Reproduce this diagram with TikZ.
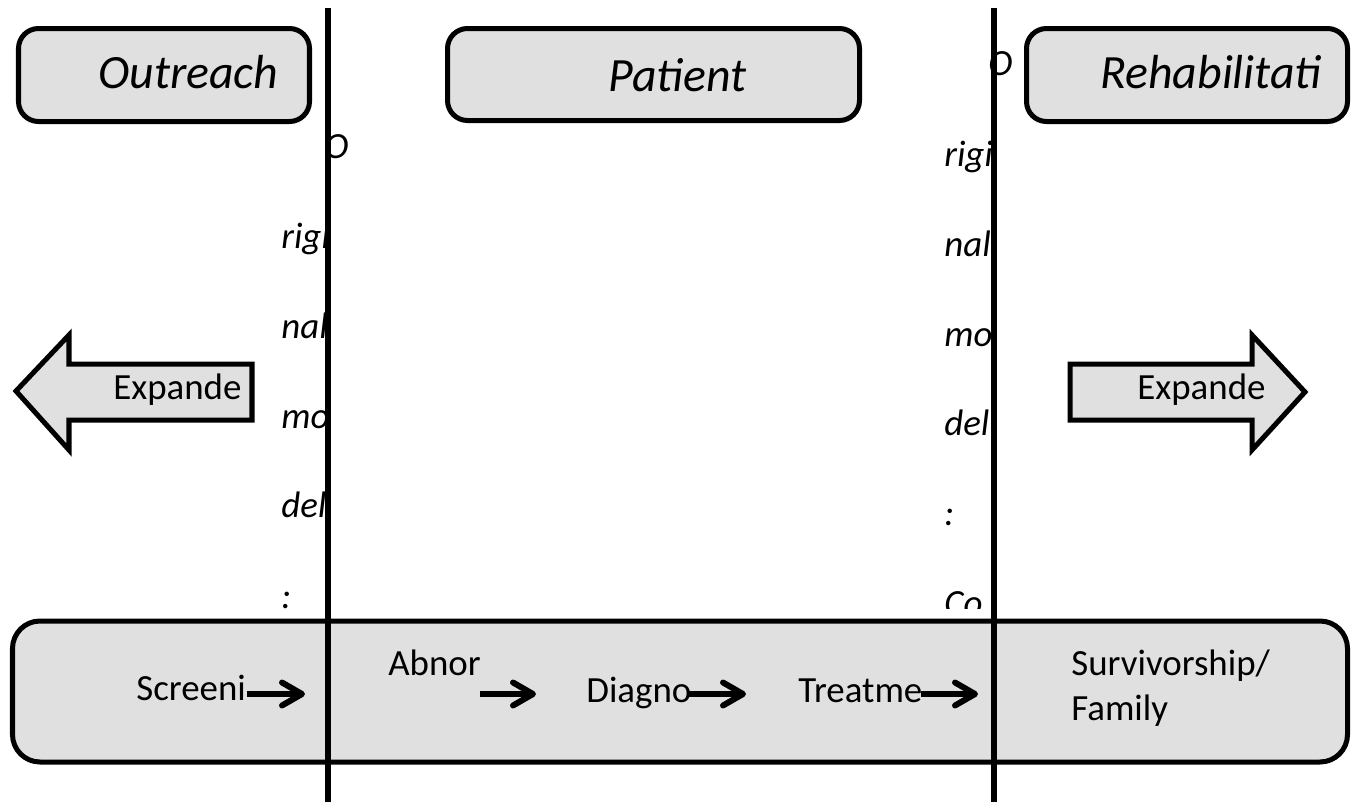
\documentclass[tikz,border=0pt]{standalone}
\usepackage{fontspec}
\setmainfont{Carlito}
\usetikzlibrary{arrows.meta}

\definecolor{boxgray}{RGB}{224,224,224}

\tikzset{
  phasebox/.style={draw, fill=boxgray, line width=2.85pt, rounded corners=0.4cm},
  flowbox/.style={draw, fill=boxgray, line width=2.85pt, rounded corners=0.55cm},
  expandarrow/.style={draw, fill=boxgray, line width=2.85pt},
  divider/.style={line width=3.7pt},
  headtext/.style={inner sep=0pt, anchor=base west, font=\fontsize{27.2}{32}\selectfont\itshape},
  sidetext/.style={inner sep=0pt, anchor=base west, font=\fontsize{21}{25}\selectfont\itshape},
  steptext/.style={inner sep=0pt, anchor=base west, font=\fontsize{21}{25}\selectfont},
  steparrow/.style={line width=3.4pt, -{Straight Barb[length=0.4cm,width=0.46cm,round]}}
}

\begin{document}
\begin{tikzpicture}[x=0.02cm, y=-0.02cm]

\useasboundingbox (0,0) rectangle (1360,802);

%Draw phase boxes
\draw[phasebox] (18.5,28.5) rectangle (309.5,121.5);
\draw[phasebox] (447.5,28.5) rectangle (859.5,120.5);
\draw[phasebox] (1026.5,28.5) rectangle (1347.5,121.5);

\node[headtext] (outreach) at (98,88) {Outreach};
\node[headtext] (patient) at (608,91) {Patient};
\node[headtext] (rehab) at (1100,88) {Rehabilitati};

%Draw column text
\node[sidetext] (lcolO) at (324,158) {O};
\foreach \word/\ypos [count=\i] in {rigi/248, nal/338, mo/428, del/517, :/608} {
\node[sidetext] (lcol\i) at (281,\ypos) {\word};
}

\node[sidetext] (rcolO) at (988,75) {O};
\foreach \word/\ypos [count=\i] in {rigi/166, nal/256, mo/346, del/435, :/525} {
\node[sidetext] (rcol\i) at (944,\ypos) {\word};
}
\begin{scope}
\clip (930,560) rectangle (1000,608);
\node[sidetext] (rcol6) at (944,615) {Co};
\end{scope}

%Draw expand arrows
\draw[expandarrow] (16,391) -- (69,335) -- (69,364) -- (252,364) -- (252,420) -- (69,420) -- (69,450) -- cycle;
\node[steptext] (expleft) at (113,399) {Expande};

\draw[expandarrow] (1070,364) -- (1252,364) -- (1252,335) -- (1305,392) -- (1252,450) -- (1252,420) -- (1070,420) -- cycle;
\node[steptext] (expright) at (1137,399) {Expande};

%Draw care flow
\draw[flowbox] (12.5,621) rectangle (1347.5,762);

\node[steptext] (screeni) at (136,700) {Screeni};
\node[steptext] (abnor) at (388,675) {Abnor};
\node[steptext] (diagno) at (586,702) {Diagno};
\node[steptext] (treatme) at (798,702) {Treatme};
\node[steptext] (surviv) at (1071,675) {Survivorship/};
\node[steptext] (family) at (1071,720) {Family};

\foreach \xa/\xb [count=\i] in {247/305, 480/536, 688/746, 921/978} {
\coordinate (from\i) at (\xa,694);
\coordinate (to\i) at (\xb,694);
\draw[steparrow] (from\i) -- (to\i);
}

%Draw dividers
\draw[divider] (328,8) -- (328,802);
\draw[divider] (994,8) -- (994,802);

\end{tikzpicture}
\end{document}
